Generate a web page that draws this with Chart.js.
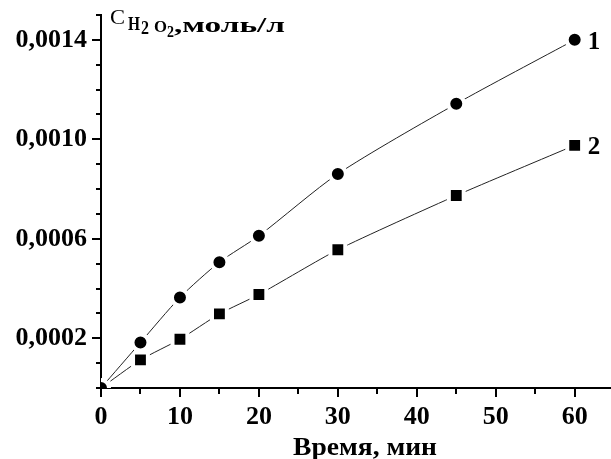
<!DOCTYPE html>
<html>
<head>
<meta charset="utf-8">
<script src="https://cdn.jsdelivr.net/npm/chart.js@4"></script>
<style>
html,body{margin:0;padding:0;background:#fff;}
#wrap{width:611px;height:459px;}
</style>
</head>
<body>
<div id="wrap"><canvas id="c" width="611" height="459"></canvas></div>
<script>
// data (time, min -> C H2O2, mol/l)
const times=[0,5,10,15,20,30,45,60];
const curve1=[0,0.000183,0.000364,0.000506,0.000612,0.000861,0.001143,0.0014];
const curve2=[0,0.000113,0.000196,0.000298,0.000376,0.000556,0.000774,0.000976];
const seriesNames=['1','2'];

const xTicks=[0,5,10,15,20,25,30,35,40,45,50,55,60];
const xLabels=[0,10,20,30,40,50,60];
const yTicks=[0,0.0001,0.0002,0.0003,0.0004,0.0005,0.0006,0.0007,0.0008,0.0009,0.001,0.0011,0.0012,0.0013,0.0014,0.0015];
const yLabels=[0.0002,0.0006,0.001,0.0014];

const SERIF='"Liberation Serif","Times New Roman",serif';
const tickFont={family:SERIF,size:26,weight:'bold'};

const near=(a,b)=>Math.abs(a-b)<1e-9;
const isYLabel=v=>yLabels.some(l=>near(l,v));
const isXLabel=v=>xLabels.some(l=>near(l,v));

function noPad(s){s.paddingLeft=0;s.paddingRight=0;s.paddingTop=0;s.paddingBottom=0;}

// draw text stretched to a given width
function fitText(ctx,txt,x,y,w,font){
  ctx.font=font;
  const m=ctx.measureText(txt).width;
  ctx.save();
  ctx.translate(x,y);
  ctx.scale(w/m,1);
  ctx.fillText(txt,0,0);
  ctx.restore();
}

const decor={
  id:'decor',
  afterDraw(chart){
    const ctx=chart.ctx,xs=chart.scales.x,ys=chart.scales.y,a=chart.chartArea;
    ctx.save();
    ctx.strokeStyle='#000';ctx.lineWidth=2;
    // tick marks, long on labelled values
    xTicks.forEach(v=>{
      const px=Math.round(xs.getPixelForValue(v));
      const len=isXLabel(v)?9:6;
      ctx.beginPath();ctx.moveTo(px,a.bottom);ctx.lineTo(px,a.bottom+len);ctx.stroke();
    });
    yTicks.forEach(v=>{
      const py=Math.round(ys.getPixelForValue(v));
      const len=isYLabel(v)?9:5;
      ctx.beginPath();ctx.moveTo(a.left,py);ctx.lineTo(a.left-len,py);ctx.stroke();
    });
    ctx.fillStyle='#000';
    // x tick labels
    ctx.textBaseline='alphabetic';ctx.textAlign='center';
    ctx.font='bold 26px '+SERIF;
    xLabels.forEach(v=>ctx.fillText(String(v),xs.getPixelForValue(v),424));
    ctx.textAlign='left';
    // y title: C(H2O2), моль/л
    fitText(ctx,'C',110,24,15,'22px '+SERIF);
    fitText(ctx,'H',128,30,12,'bold 19px '+SERIF);
    fitText(ctx,'2',141,34,8,'bold 19px '+SERIF);
    fitText(ctx,'O',154,32,13,'bold 17px '+SERIF);
    fitText(ctx,'2',167,37,7,'bold 17px '+SERIF);
    fitText(ctx,',моль/л',174,32,111,'bold 21px '+SERIF);
    // x title
    fitText(ctx,'Время, мин',293,455,144,'bold 25px '+SERIF);
    // curve numbers next to the last points
    const last=times.length-1;
    [curve1,curve2].forEach((d,i)=>{
      const px=xs.getPixelForValue(times[last]);
      const py=ys.getPixelForValue(d[last]);
      ctx.font='bold 25px '+SERIF;
      ctx.fillText(seriesNames[i],px+13,py+9);
    });
    ctx.restore();
  }
};

new Chart(document.getElementById('c'),{
  type:'line',
  data:{
    datasets:[
      {label:seriesNames[0],data:times.map((t,i)=>({x:t,y:curve1[i]})),
       borderColor:'#222',borderWidth:1,tension:0.25,
       pointStyle:'circle',pointRadius:8,pointBackgroundColor:'#000',pointBorderColor:'#fff',pointBorderWidth:4},
      {label:seriesNames[1],data:times.map((t,i)=>({x:t,y:curve2[i]})),
       borderColor:'#222',borderWidth:1,tension:0.2,
       pointStyle:'rect',pointRadius:10.5,pointBackgroundColor:'#000',pointBorderColor:'#fff',pointBorderWidth:4}
    ]
  },
  options:{
    responsive:false,
    devicePixelRatio:1,
    animation:false,
    events:[],
    // no extra room for the markers, the plot runs to the right edge
    layout:{autoPadding:false,padding:{left:0,right:0,top:15,bottom:0}},
    plugins:{legend:{display:false},tooltip:{enabled:false}},
    scales:{
      x:{
        type:'linear',min:0,max:64.6,
        afterBuildTicks:s=>{s.ticks=xTicks.map(v=>({value:v}));},
        afterFit:s=>{s.height=71;noPad(s);},
        grid:{display:true,drawOnChartArea:false,drawTicks:false},
        border:{display:true,color:'#000',width:2},
        ticks:{display:false}
      },
      y:{
        type:'linear',min:0,max:0.0015,
        afterBuildTicks:s=>{s.ticks=yTicks.map(v=>({value:v}));},
        afterFit:s=>{s.width=101;noPad(s);},
        grid:{display:true,drawOnChartArea:false,drawTicks:false},
        border:{display:true,color:'#000',width:2},
        ticks:{font:tickFont,color:'#000',padding:14,autoSkip:false,
          callback:v=>isYLabel(v)?v.toFixed(4).replace('.',','):''}
      }
    }
  },
  plugins:[decor]
});
</script>
</body>
</html>
